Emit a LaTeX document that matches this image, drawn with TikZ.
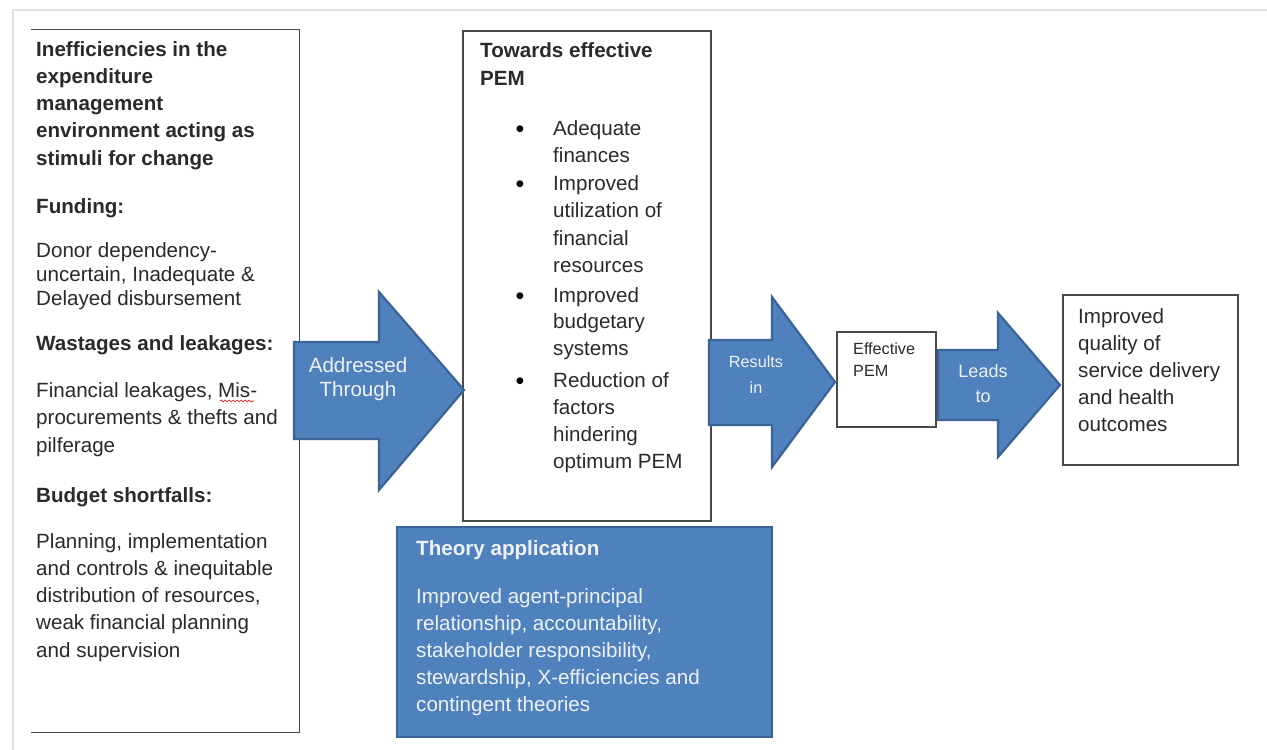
\documentclass[tikz,border=0pt]{standalone}
\usepackage{fontspec}
\setmainfont{Liberation Sans}
\usetikzlibrary{decorations.pathmorphing}
\definecolor{blu}{HTML}{4F81BD}
\definecolor{bluedge}{HTML}{3B6496}
\definecolor{txtgray}{HTML}{2A2A2A}
\definecolor{edgegray}{HTML}{4A4A4A}
\definecolor{lightlbl}{HTML}{EEF2F8}
\newcommand\para[3][l]{\fontsize{20.6}{#2}\selectfont\begin{tabular}[t]{@{}#1@{}}#3\end{tabular}}
\tikzset{
  txt/.style={anchor=base west, inner sep=0pt, text=txtgray},
  wtxt/.style={anchor=base west, inner sep=0pt, text=lightlbl},
  lbl/.style={anchor=base, inner sep=0pt, text=lightlbl},
  bul/.style={anchor=base, inner sep=0pt, text=black, font=\fontsize{25}{25}\selectfont},
  frame/.style={draw=edgegray, line width=1.3pt, inner sep=0pt},
  blockarrow/.style={fill=blu, draw=bluedge, line width=2.2pt, line join=miter},
}
\begin{document}
\begin{tikzpicture}[x=1pt,y=-1pt]
\useasboundingbox (0,0) rectangle (1267,750);
\fill[white] (0,0) rectangle (1267,750);
% page edge
\draw[black!12, line width=2.5pt] (13,750) -- (13,10) -- (1267,10);

% boxes
\node[inner sep=0pt, minimum width=268pt, minimum height=702pt] (lbox) at (165,381) {};
\draw[edgegray, line width=1.3pt] (lbox.north west) -- (lbox.north east) -- (lbox.south east) -- (lbox.south west);
\node[frame, minimum width=248pt, minimum height=490pt] (mbox) at (587,276) {};
\node[frame, minimum width=99pt, minimum height=95pt] (ebox) at (886.5,379.5) {};
\node[frame, minimum width=175pt, minimum height=170pt] (rbox) at (1150.5,380) {};
\node[fill=blu, draw=bluedge, line width=2.6pt, inner sep=0pt, minimum width=375pt, minimum height=210pt] (tbox) at (584.5,632) {};

% block arrows
\draw[blockarrow] (294,342) -- (379,342) -- (379,292) -- (464,390) -- (379,490) -- (379,439) -- (294,439) -- cycle;
\draw[blockarrow] (709,340) -- (772,340) -- (772,297) -- (835,382) -- (772,467) -- (772,425) -- (709,425) -- cycle;
\draw[blockarrow] (938,350) -- (998,350) -- (998,313) -- (1060,385) -- (998,457) -- (998,420) -- (938,420) -- cycle;

% arrow labels
\node[lbl] (a1) at (358,372) {\para[c]{24}{Addressed\\Through}};
\node[lbl] (a2) at (756,367) {\fontsize{16.2}{26}\selectfont\begin{tabular}[t]{@{}c@{}}Results\\in\end{tabular}};
\node[lbl] (a3) at (983,377) {\fontsize{18}{25}\selectfont\begin{tabular}[t]{@{}c@{}}Leads\\to\end{tabular}};

% left box text
\node[txt] (l1) at (36,56) {\para{27.3}{\bfseries Inefficiencies in the\\\bfseries expenditure\\\bfseries management\\\bfseries environment acting as\\\bfseries stimuli for change}};
\node[txt] (l2) at (36,213) {\para{24}{\bfseries Funding:}};
\node[txt] (l3) at (36,257) {\para{24}{Donor dependency-\\uncertain, Inadequate \&\\Delayed disbursement}};
\node[txt] (l4) at (36,350) {\para{24}{\bfseries Wastages and leakages:}};
\node[txt] (l5) at (36,397) {\para{27.5}{Financial leakages, Mis-\\procurements \& thefts and\\pilferage}};
\draw[red!85!black, line width=0.6pt, decorate, decoration={snake, amplitude=1pt, segment length=4pt}] (220,401) -- (254,401);
\node[txt] (l6) at (36,502) {\para{24}{\bfseries Budget shortfalls:}};
\node[txt] (l7) at (36,548) {\para{27.3}{Planning, implementation\\and controls \& inequitable\\distribution of resources,\\weak financial planning\\and supervision}};

% middle box text
\node[txt] (m1) at (480,57) {\para{28}{\bfseries Towards effective\\\bfseries PEM}};
\node[bul] (b1) at (520,137.5) {•};
\node[txt] (m2) at (553,135) {\para{27.5}{Adequate\\finances}};
\node[bul] (b2) at (520,192.5) {•};
\node[txt] (m3) at (553,190) {\para{27.6}{Improved\\utilization of\\financial\\resources}};
\node[bul] (b3) at (520,304.5) {•};
\node[txt] (m4) at (553,302) {\para{26.5}{Improved\\budgetary\\systems}};
\node[bul] (b4) at (520,389.5) {•};
\node[txt] (m5) at (553,387) {\para{27}{Reduction of\\factors\\hindering\\optimum PEM}};

% effective PEM box text
\node[txt] (e1) at (853,354) {\fontsize{16.2}{22}\selectfont\begin{tabular}[t]{@{}l@{}}Effective\\PEM\end{tabular}};

% right box text
\node[txt] (r1) at (1078,323) {\para{27}{Improved\\quality of\\service delivery\\and health\\outcomes}};

% theory box text
\node[wtxt] (t1) at (416,555) {\para{27}{\bfseries Theory application}};
\node[wtxt] (t2) at (416,603) {\para{27}{Improved agent-principal\\relationship, accountability,\\stakeholder responsibility,\\stewardship, X-efficiencies and\\contingent theories}};
\end{tikzpicture}
\end{document}
